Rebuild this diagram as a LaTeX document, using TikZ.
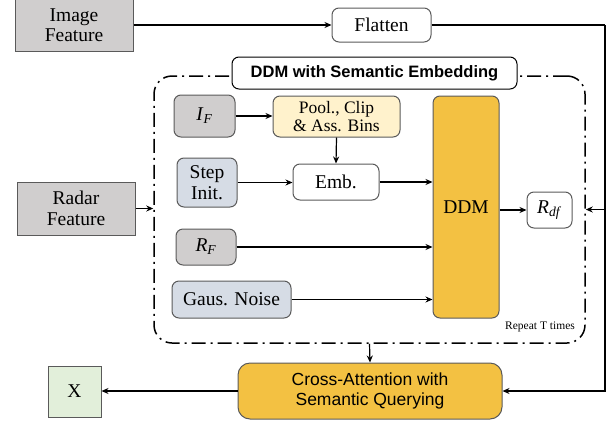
\documentclass[tikz,border=0pt]{standalone}
\usepackage{fontspec}
\setmainfont{Liberation Serif}
\setsansfont{Liberation Sans}
\usetikzlibrary{arrows.meta}

\definecolor{featgray}{HTML}{D0CECE}
\definecolor{stepblue}{HTML}{D6DCE5}
\definecolor{poolyellow}{HTML}{FFF2CC}
\definecolor{ddmorange}{HTML}{F3C142}
\definecolor{outgreen}{HTML}{E2EFDA}
\definecolor{edgegray}{HTML}{5A5A5A}

\begin{document}
\begin{tikzpicture}[x=1pt,y=-1pt,
  >={Stealth[length=7pt,width=6pt]},
  box/.style={draw=edgegray,line width=1pt,align=center,inner sep=0pt,
    font=\fontsize{19.5}{20.5}\selectfont},
  rbox/.style={box,rounded corners=7pt},
  feat/.style={box,fill=featgray},
  link/.style={->,line width=1.2pt}]
\useasboundingbox (0,0) rectangle (609,423);

% outer loop frame
\node[draw,line width=1.5pt,rounded corners=18pt,
  dash pattern=on 14pt off 5pt on 2pt off 5pt,
  minimum width=431pt,minimum height=267pt] (loop) at (369.5,209.5) {};
\node[rbox,draw=black,fill=white,minimum width=285pt,minimum height=32pt,
  font=\sffamily\bfseries\fontsize{16.5}{18}\selectfont] (title) at (374.5,73) {DDM with Semantic Embedding};

% inputs
\node[feat,minimum width=118pt,minimum height=53pt] (img) at (74,25) {Image\\Feature};
\node[feat,minimum width=118pt,minimum height=53pt] (radar) at (76,208.5) {Radar\\Feature};
\node[rbox,fill=white,minimum width=99pt,minimum height=34pt] (flat) at (381.5,25) {Flatten};

% inside the loop
\node[rbox,fill=featgray,minimum width=61pt,minimum height=42pt] (IF) at (204.5,116) {\textit{I}\textsubscript{\textit{F}}};
\node[rbox,fill=poolyellow,minimum width=127pt,minimum height=41pt,
  font=\fontsize{17.5}{18}\selectfont] (pool) at (336.5,116.5) {Pool., Clip\\\& Ass. Bins};
\node[rbox,fill=stepblue,minimum width=60pt,minimum height=49pt] (step) at (207,182.5) {Step\\Init.};
\node[rbox,fill=white,minimum width=86pt,minimum height=36pt] (emb) at (336,182) {Emb.};
\node[rbox,fill=featgray,minimum width=60pt,minimum height=36pt] (RF) at (206,247) {\textit{R}\textsubscript{\textit{F}}};
\node[rbox,fill=stepblue,minimum width=119pt,minimum height=37pt] (noise) at (231.5,299.5) {Gaus. Noise};
\node[rbox,fill=ddmorange,minimum width=66pt,minimum height=222pt] (ddm) at (466,207) {DDM};
\node[rbox,fill=white,minimum width=45pt,minimum height=36pt] (rdf) at (549.5,210) {\textit{R}\textsubscript{\textit{df}}};
\node[font=\fontsize{11.5}{12}\selectfont] (rep) at (540,327) {Repeat T times};

% outputs
\node[rbox,fill=ddmorange,rounded corners=12pt,minimum width=264pt,minimum height=56pt,
  font=\sffamily\fontsize{17.5}{20.5}\selectfont] (cross) at (370,391) {Cross-Attention with\\Semantic Querying};
\node[box,fill=outgreen,minimum width=53pt,minimum height=51pt] (X) at (74.5,391.5) {X};

\coordinate (rt) at (605,25);

% connectors
\draw[link] (img.east) -- (flat.west);
\draw[line width=1.2pt] (flat.east) -- (rt);
\draw[link] (rt) |- (cross.east);
\draw[link] (rt |- loop.east) -- (loop.east);
\draw[link] (radar.east) -- (radar.east -| loop.west);
\draw[link] (IF.east) -- (IF.east -| pool.west);
\draw[link] (pool.south) -- (emb.north);
\draw[link] (step.east) -- (step.east -| emb.west);
\draw[link] (emb.east) -- (emb.east -| ddm.west);
\draw[link] (RF.east) -- (RF.east -| ddm.west);
\draw[link] (noise.east) -- (noise.east -| ddm.west);
\draw[link] (rdf.west -| ddm.east) -- (rdf.west);
\draw[link] (loop.south) -- (cross.north);
\draw[link] (cross.west) -- (cross.west -| X.east);

\end{tikzpicture}
\end{document}
